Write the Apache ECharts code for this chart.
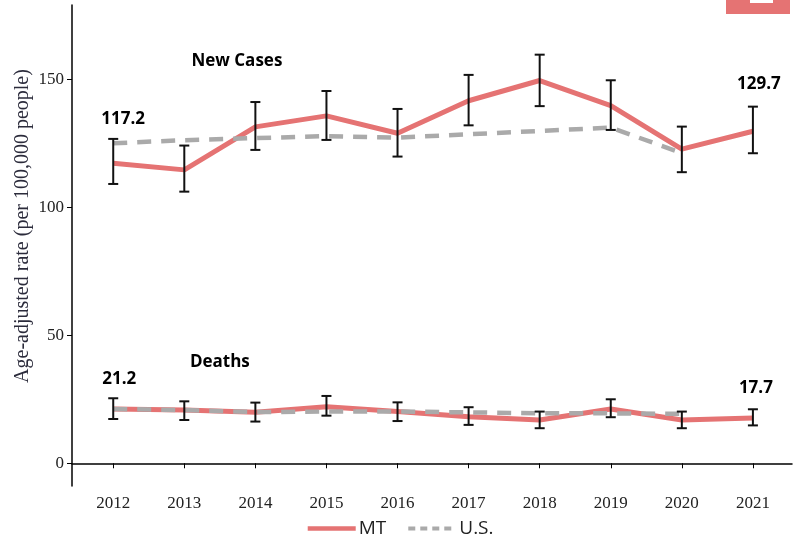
<!DOCTYPE html>
<html>
<head>
<meta charset="utf-8">
<script src="https://cdn.jsdelivr.net/npm/echarts@6/dist/echarts.min.js"></script>
<style>
  html, body { margin: 0; padding: 0; background: #fff; }
  #chart { width: 799px; height: 546px; }
</style>
</head>
<body>
<div id="chart"></div>
<script>
// Cancer incidence and mortality, age-adjusted per 100,000 people
const years = [2012, 2013, 2014, 2015, 2016, 2017, 2018, 2019, 2020, 2021];

const mtNewCases   = [117.2, 114.6, 131.4, 135.7, 128.9, 141.6, 149.5, 139.7, 122.7, 129.7];
const mtNewCasesLo = [109.1, 106.1, 122.4, 126.3, 119.8, 132.0, 139.5, 130.2, 113.7, 121.1];
const mtNewCasesHi = [126.7, 124.1, 141.1, 145.4, 138.4, 151.7, 159.6, 149.6, 131.5, 139.3];
const usNewCases   = [125.0, 126.2, 127.0, 127.8, 127.2, 128.5, 129.8, 131.1, 121.2];

const mtDeaths   = [21.2, 20.8, 19.9, 22.1, 20.2, 18.2, 16.9, 21.2, 16.9, 17.7];
const mtDeathsLo = [17.3, 16.9, 16.3, 18.6, 16.5, 15.0, 13.7, 18.0, 13.7, 14.8];
const mtDeathsHi = [25.4, 24.2, 23.7, 26.3, 23.8, 21.9, 20.2, 25.0, 20.2, 21.1];
const usDeaths   = [21.2, 20.8, 20.0, 20.2, 20.2, 19.9, 19.5, 19.5, 19.3];

const yTicks = [0, 50, 100, 150];
const panelTitles = ['New Cases', 'Deaths'];
const yTitle = 'Age-adjusted rate (per 100,000 people)';

const RED = '#E57373';
const GRAY = '#AAAAAA';
const SERIF = '"Liberation Serif", "DejaVu Serif", serif';
const SANS = '"Open Sans", "Liberation Sans", sans-serif';

const pairs = (xs, ys) => ys.map((v, i) => [xs[i], v]);
const bars = (lo, hi) => lo.map((v, i) => [years[i], v, hi[i]]);

const valueLabel = {
  show: true,
  fontFamily: SANS,
  fontWeight: 'bold',
  fontSize: 17,
  color: '#000',
  position: 'top',
  formatter: p => {
    const n = p.dataIndex;
    return (n === 0 || n === years.length - 1) ? p.value[1].toFixed(1) : '';
  }
};

function mtSeries(values, offFirst, offLast) {
  const data = pairs(years, values).map((d, i) => {
    const item = { value: d };
    if (i === 0) item.label = { offset: offFirst };
    if (i === years.length - 1) item.label = { offset: offLast };
    return item;
  });
  return {
    name: 'MT', type: 'line', data,
    symbol: 'circle', symbolSize: 0, showSymbol: true,
    lineStyle: { color: RED, width: 5 },
    itemStyle: { color: RED },
    label: valueLabel,
    z: 2
  };
}

function usSeries(values) {
  return {
    name: 'U.S.', type: 'line', data: pairs(years, values),
    symbol: 'none',
    lineStyle: { color: GRAY, width: 4.5, type: [14, 10] },
    itemStyle: { color: GRAY },
    z: 3
  };
}

function errorSeries(lo, hi) {
  return {
    type: 'custom',
    data: bars(lo, hi),
    z: 4,
    silent: true,
    renderItem: (params, api) => {
      const x = api.value(0);
      const top = api.coord([x, api.value(2)]);
      const bot = api.coord([x, api.value(1)]);
      const half = 5;
      const style = { stroke: '#111', lineWidth: 2 };
      return {
        type: 'group',
        children: [
          { type: 'line', shape: { x1: top[0], y1: top[1], x2: bot[0], y2: bot[1] }, style },
          { type: 'line', shape: { x1: top[0] - half, y1: top[1], x2: top[0] + half, y2: top[1] }, style },
          { type: 'line', shape: { x1: bot[0] - half, y1: bot[1], x2: bot[0] + half, y2: bot[1] }, style }
        ]
      };
    }
  };
}

const chart = echarts.init(document.getElementById('chart'), null, { renderer: 'canvas' });

chart.setOption({
  animation: false,
  backgroundColor: '#fff',
  grid: { left: 72, right: 7, top: 5, bottom: 60, containLabel: false },
  xAxis: {
    type: 'value',
    min: 2011.42, max: 2021.55,
    splitLine: { show: false },
    axisLine: { lineStyle: { color: '#000', width: 1.5 } },
    axisTick: { customValues: years, length: 5, lineStyle: { color: '#000', width: 1 } },
    axisLabel: {
      customValues: years, formatter: v => String(v),
      fontFamily: SERIF, fontSize: 17, color: '#222', margin: 9
    }
  },
  yAxis: {
    type: 'value',
    min: -8.87, max: 179,
    splitLine: { show: false },
    axisLine: { show: true, lineStyle: { color: '#000', width: 1.5 } },
    axisTick: { show: true, customValues: yTicks, length: 5, lineStyle: { color: '#000', width: 1 } },
    axisLabel: {
      customValues: yTicks, formatter: v => String(v),
      fontFamily: SERIF, fontSize: 17, color: '#222', margin: 8
    }
  },
  legend: {
    data: [
      { name: 'MT', lineStyle: { width: 4.5 } },
      { name: 'U.S.', lineStyle: { width: 4, type: [7, 5] } }
    ],
    bottom: 3, left: 'center',
    itemWidth: 48, itemHeight: 14, itemGap: 20,
    itemStyle: { opacity: 0 },
    textStyle: { fontFamily: SANS, fontSize: 19, color: '#222', padding: [0, 0, 0, -2] }
  },
  series: [
    mtSeries(mtNewCases, [10, -31], [6, -34]),
    usSeries(usNewCases),
    errorSeries(mtNewCasesLo, mtNewCasesHi),
    mtSeries(mtDeaths, [6, -16], [3, -16]),
    usSeries(usDeaths),
    errorSeries(mtDeathsLo, mtDeathsHi)
  ]
});

// Panel headings anchored in data space, the rotated axis title, and the corner tab
const titleAnchors = [[2013.74, 157.1], [2013.5, 39.6]];
const titleGraphics = panelTitles.map((t, i) => {
  const p = chart.convertToPixel({ gridIndex: 0 }, titleAnchors[i]);
  return {
    type: 'text', x: p[0], y: p[1],
    style: {
      text: t, fontFamily: SANS, fontWeight: 'bold', fontSize: 17, fill: '#000',
      align: 'center', verticalAlign: 'middle'
    }
  };
});
chart.setOption({
  graphic: [
    { type: 'rect', right: 9, top: 0, shape: { width: 64, height: 14 }, style: { fill: RED } },
    { type: 'rect', right: 26, top: 0, shape: { width: 23, height: 3 }, style: { fill: '#fff' } },
    {
      type: 'text', x: 23, y: 226, rotation: Math.PI / 2,
      style: {
        text: yTitle, fontFamily: SERIF, fontSize: 20, fill: '#2b2b3b',
        align: 'center', verticalAlign: 'middle'
      }
    }
  ].concat(titleGraphics)
});
</script>
</body>
</html>
